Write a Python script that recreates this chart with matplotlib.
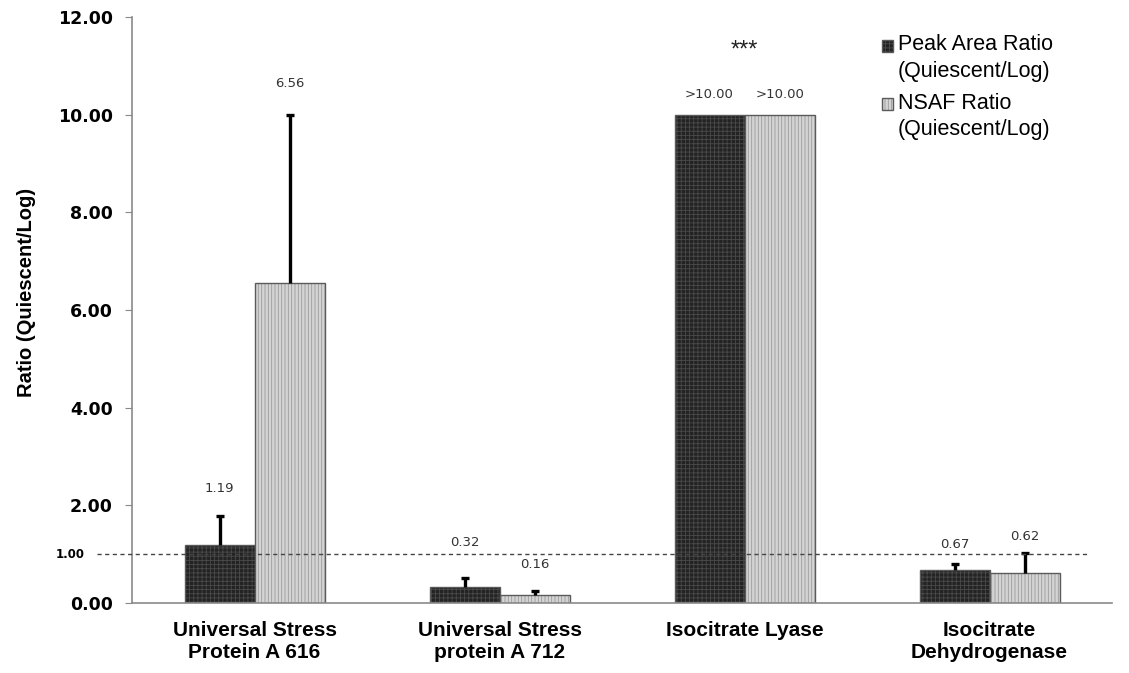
import numpy as np
import matplotlib.pyplot as plt
from matplotlib.colors import to_rgba
from matplotlib.patches import Rectangle
from matplotlib.container import BarContainer
from matplotlib.legend_handler import HandlerPatch
from matplotlib.transforms import blended_transform_factory

plt.rcParams['font.family'] = ['Liberation Sans', 'DejaVu Sans']
plt.rcParams['hatch.linewidth'] = 0.6

proteins = ['Universal Stress\nProtein A 616', 'Universal Stress\nprotein A 712',
            'Isocitrate Lyase', 'Isocitrate\nDehydrogenase']
peak_area = [1.19, 0.32, 10.0, 0.67]
peak_err = [0.60, 0.19, 0.0, 0.13]
nsaf = [6.56, 0.16, 10.0, 0.62]
nsaf_err = [3.42, 0.09, 0.0, 0.40]
capped = [False, False, True, False]   # ratio above 10, bar cut at 10

fig = plt.figure(figsize=(11.29, 6.73), dpi=100)
ax = fig.add_axes([0.117, 0.104, 0.868, 0.871])

x = np.arange(len(proteins))
w = 0.286
series = [
    (peak_area, peak_err, -w / 2, '#232323', '#4a4a4a', '++++', 'Peak Area Ratio\n(Quiescent/Log)'),
    (nsaf, nsaf_err, w / 2, '#d4d4d4', '#9a9a9a', '|||||', 'NSAF Ratio\n(Quiescent/Log)'),
]
# vertical offset (points) of each value label above its error bar
label_pad = [[15, 21, 10, 9], [18, 14, 10, 7]]

for k, (vals, errs, off, fc, hc, hatch, lab) in enumerate(series):
    bars = ax.bar(x + off, vals, w, color=fc, edgecolor='#5a5a5a', linewidth=1.0, label=lab, zorder=2)
    for b in bars:
        b.set_hatch(hatch)
        b._hatch_color = to_rgba(hc)
    has_err = [e > 0 for e in errs]
    ex = [xi + off for xi, h in zip(x, has_err) if h]
    ev = [v for v, h in zip(vals, has_err) if h]
    ee = [e for e, h in zip(errs, has_err) if h]
    _, caps, _ = ax.errorbar(ex, ev, yerr=[np.zeros(len(ee)), ee], fmt='none', ecolor='black',
                             elinewidth=2.4, capsize=2.8, capthick=2.4, zorder=3)
    caps[0].set_visible(False)   # upper error only
    for i, v in enumerate(vals):
        txt = ('>%.2f' if capped[i] else '%.2f') % v
        ax.annotate(txt, (x[i] + off, v + errs[i]), xytext=(0, label_pad[k][i]),
                    textcoords='offset points', ha='center', va='bottom',
                    fontsize=9.5, color='#333333', family=['DejaVu Sans'])

ax.text(x[2], 11.3, '***', ha='center', va='center', fontsize=17, color='#222222')

# reference line at ratio = 1
trans = blended_transform_factory(ax.transAxes, ax.transData)
ax.plot([-0.036, 0.977], [1, 1], transform=trans, ls=(0, (3, 2.5)), color='#444444',
        lw=1.0, clip_on=False, zorder=4)
ax.text(-0.048, 1, '1.00', transform=trans, ha='right', va='center', fontsize=8.5,
        fontweight='bold', family=['DejaVu Sans'])

yt = [0, 2, 4, 6, 8, 10, 12]
ax.set_xlim(-0.5, 3.5)
ax.set_ylim(0, 12)
ax.set_yticks(yt)
ax.set_yticklabels(['%.2f' % t for t in yt], fontweight='bold', fontsize=12.5, family=['DejaVu Sans'])
ax.set_xticks(x)
ax.set_xticklabels(proteins, fontweight='bold', fontsize=15)
ax.tick_params(axis='x', length=0, pad=13)
ax.tick_params(axis='y', length=5, color='#888888', pad=9)

for s in ['top', 'right']:
    ax.spines[s].set_visible(False)
for s in ['left', 'bottom']:
    ax.spines[s].set_color('#8a8a8a')
    ax.spines[s].set_linewidth(1.2)

ax.set_ylabel('Ratio (Quiescent/Log)', fontsize=14.5, fontweight='bold')
ax.yaxis.set_label_coords(-0.098, 0.53)


# legend squares sit beside the first line of each two-line label
def top_square(legend, orig_handle, xdescent, ydescent, width, height, fontsize):
    return Rectangle((-xdescent, -ydescent + 9.2), width, height)


def from_first_bar(legend_handle, orig_handle):
    legend_handle.update_from(orig_handle.patches[0])


leg = ax.legend(loc='upper left', bbox_to_anchor=(0.765, 0.97), frameon=False, fontsize=15.5,
                borderpad=0, borderaxespad=0, handlelength=0.5, handleheight=0.5,
                handletextpad=0.25, labelspacing=0.5,
                handler_map={BarContainer: HandlerPatch(patch_func=top_square,
                                                        update_func=from_first_bar)})
for t in leg.get_texts():
    t.set_linespacing(1.35)

fig.savefig('out.png', dpi=100)
